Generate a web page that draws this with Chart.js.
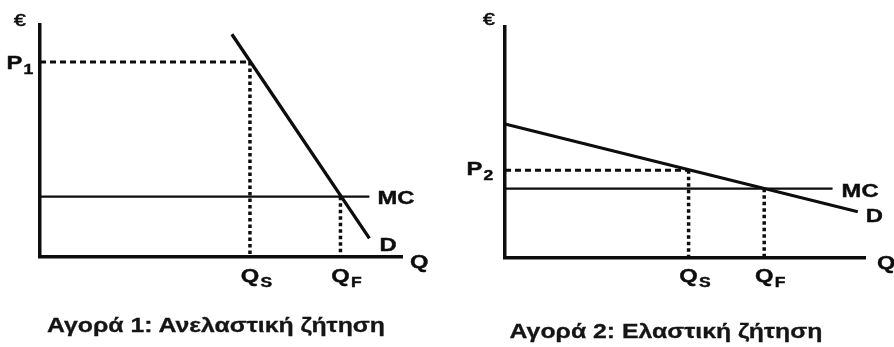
<!DOCTYPE html>
<html>
<head>
<meta charset="utf-8">
<script src="https://cdn.jsdelivr.net/npm/chart.js@4.4.1/dist/chart.umd.min.js"></script>
<style>
  html, body { margin: 0; padding: 0; background: #fff; }
  body { width: 894px; height: 347px; position: relative; overflow: hidden; }
  canvas { position: absolute; top: 0; }
  #c1 { left: 0; }
  #c2 { left: 447px; }
  .title {
    position: absolute; width: 600px; text-align: center;
    font: bold 20px "Liberation Sans", Arial, sans-serif; line-height: 20px;
    color: #151515; transform: scaleX(1.24); transform-origin: 50% 50%;
    white-space: nowrap; -webkit-text-stroke: 0.3px #151515;
  }
</style>
</head>
<body>
<canvas id="c1" width="447" height="347"></canvas>
<canvas id="c2" width="447" height="347"></canvas>
<div class="title" id="t1" style="left:-84px; top:315px;">Αγορά 1: Ανελαστική ζήτηση</div>
<div class="title" id="t2" style="left:366px; top:321px;">Αγορά 2: Ελαστική ζήτηση</div>
<script>
// ---------- DATA (axis range 0..100 on both axes) ----------
// Market 1: inelastic demand
const m1DemandQ = [53, 91];
const m1DemandP = [96, 8];
const m1McQ = [0, 91];
const m1McP = [26, 26];
const m1PriceLevel = [84];          // P1
const m1Quantities = [58, 83];      // QS, QF
const m1QuantityLabels = ['Q', 'Q'];
const m1QuantitySubs = ['S', 'F'];
const m1PriceLabel = ['P', '1'];

// Market 2: elastic demand
const m2DemandQ = [0, 98];
const m2DemandP = [58, 20];
const m2McQ = [0, 91];
const m2McP = [30, 30];
const m2PriceLevel = [38];          // P2
const m2Quantities = [51, 72];      // QS, QF
const m2QuantityLabels = ['Q', 'Q'];
const m2QuantitySubs = ['S', 'F'];
const m2PriceLabel = ['P', '2'];

const axisLabels = { y: '€', x: 'Q', mc: 'MC', d: 'D' };

// ---------- helpers ----------
const INK = '#0d0d0d';
const SX = 1.25;
const FONT_MAIN = 'bold 19px "Liberation Sans", Arial, sans-serif';
const FONT_SUB = 'bold 14px "Liberation Sans", Arial, sans-serif';
const FONT_EURO = '17px "Liberation Sans", Arial, sans-serif';

function pts(xs, ys) { return xs.map((x, i) => ({ x: x, y: ys[i] })); }

function drawLabel(ctx, x, y, main, sub, align, font) {
  ctx.save();
  const fm = font || FONT_MAIN;
  ctx.font = fm;
  const wm = ctx.measureText(main).width * SX;
  ctx.font = FONT_SUB;
  const ws = sub ? ctx.measureText(sub).width * SX + 1 : 0;
  let left = x;
  if (align === 'center') left = x - wm / 2;
  else if (align === 'right') left = x - wm - ws;
  ctx.translate(left, y);
  ctx.scale(SX, 1);
  ctx.fillStyle = INK;
  ctx.strokeStyle = INK;
  ctx.lineWidth = font ? 0.6 : 0.4;
  ctx.textAlign = 'left';
  ctx.textBaseline = 'alphabetic';
  ctx.font = fm;
  ctx.fillText(main, 0, 0);
  ctx.strokeText(main, 0, 0);
  if (sub) {
    ctx.font = FONT_SUB;
    ctx.fillText(sub, wm / SX + 1, 5);
    ctx.strokeText(sub, wm / SX + 1, 5);
  }
  ctx.restore();
}

const econLabels = {
  id: 'econLabels',
  afterDraw(chart, args, o) {
    const { ctx, chartArea: a, scales: { x, y } } = chart;
    drawLabel(ctx, a.left + o.euroDx, a.top + o.euroDy, axisLabels.y, null, 'center', FONT_EURO);
    drawLabel(ctx, a.right + o.qDx, a.bottom + o.qDy, axisLabels.x, null, 'left');
    drawLabel(ctx, a.left - o.pGap, y.getPixelForValue(o.price[0]) + o.pDy, o.priceLabel[0], o.priceLabel[1], 'right');
    o.quantities.forEach((q, i) => {
      drawLabel(ctx, x.getPixelForValue(q), a.bottom + o.qLabDy, o.qLabels[i], o.qSubs[i], 'center');
    });
    const mcEnd = o.mcQ.length - 1;
    drawLabel(ctx, x.getPixelForValue(o.mcQ[mcEnd]) + o.mcDx, y.getPixelForValue(o.mcP[mcEnd]) + o.mcDy, axisLabels.mc, null, 'left');
    const dEnd = o.dQ.length - 1;
    drawLabel(ctx, x.getPixelForValue(o.dQ[dEnd]) + o.dDx, y.getPixelForValue(o.dP[dEnd]) + o.dDy, axisLabels.d, null, 'left');
  }
};

function makeChart(id, d, pad, lab) {
  const dash = { borderColor: INK, borderWidth: 3, borderDash: [6, 4], pointRadius: 0, showLine: true, clip: false, fill: false };
  const dot = { borderColor: INK, borderWidth: 3.5, borderDash: [3.5, 3], pointRadius: 0, showLine: true, clip: false, fill: false };
  const datasets = [
    { label: 'D', data: pts(d.dQ, d.dP), borderColor: INK, borderWidth: d.dWidth, pointRadius: 0, showLine: true, clip: false },
    { label: 'MC', data: pts(d.mcQ, d.mcP), borderColor: INK, borderWidth: 2.3, pointRadius: 0, showLine: true, clip: false },
    Object.assign({ label: 'P', data: [{ x: 0, y: d.price[0] }, { x: d.quantities[0], y: d.price[0] }] }, dash),
    Object.assign({ label: 'QS', data: [{ x: d.quantities[0], y: d.price[0] }, { x: d.quantities[0], y: 0 }] }, dot),
    Object.assign({ label: 'QF', data: [{ x: d.quantities[1], y: d.mcP[0] }, { x: d.quantities[1], y: 0 }] }, dot)
  ];
  const axis = (pos) => ({
    type: 'linear', position: pos, min: 0, max: 100,
    grid: { display: false, drawTicks: false },
    border: { display: true, width: 3.5, color: INK },
    ticks: { display: false }
  });
  return new Chart(document.getElementById(id), {
    type: 'scatter',
    data: { datasets },
    options: {
      responsive: false, animation: false, devicePixelRatio: 1, events: [],
      layout: { padding: pad },
      scales: { x: axis('bottom'), y: axis('left') },
      plugins: {
        legend: { display: false }, tooltip: { enabled: false }, title: { display: false },
        econLabels: Object.assign({}, d, lab)
      }
    },
    plugins: [econLabels]
  });
}

makeChart('c1',
  { dQ: m1DemandQ, dP: m1DemandP, mcQ: m1McQ, mcP: m1McP, price: m1PriceLevel, quantities: m1Quantities,
    qLabels: m1QuantityLabels, qSubs: m1QuantitySubs, priceLabel: m1PriceLabel, dWidth: 3.3 },
  { left: 40, top: 25, right: 45, bottom: 90 },
  { euroDx: -20, euroDy: 1, qDx: 8, qDy: 11, pGap: 7, pDy: 7, qLabDy: 25, mcDx: 8, mcDy: 7, dDx: 10, dDy: 13 });

makeChart('c2',
  { dQ: m2DemandQ, dP: m2DemandP, mcQ: m2McQ, mcP: m2McP, price: m2PriceLevel, quantities: m2Quantities,
    qLabels: m2QuantityLabels, qSubs: m2QuantitySubs, priceLabel: m2PriceLabel, dWidth: 3 },
  { left: 58, top: 27, right: 29, bottom: 89 },
  { euroDx: -16, euroDy: -2, qDx: 12, qDy: 11, pGap: 12, pDy: 5, qLabDy: 24, mcDx: 9, mcDy: 8, dDx: 8, dDy: 10 });
</script>
</body>
</html>
